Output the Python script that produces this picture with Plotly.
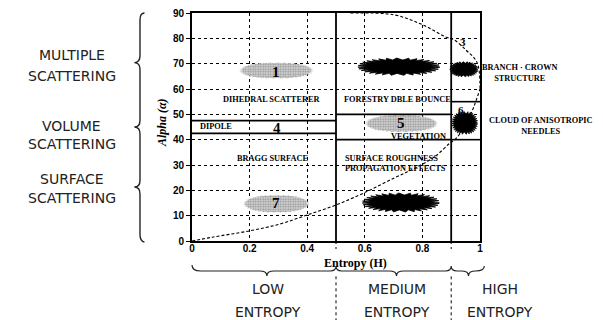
import numpy as np
import plotly.graph_objects as go

# ---------------- data ----------------
# feasible-region boundary curves of the H/alpha plane
upper_H = [0.55, 0.70, 0.80, 0.88, 0.91, 0.95, 0.99, 1.0]
upper_alpha = [90, 89.3, 85.4, 80.6, 79.4, 75.5, 70.4, 60]
lower_H = [0, 0.07, 0.2, 0.305, 0.4, 0.5, 0.605, 0.704, 0.773, 0.843, 0.895, 0.918, 0.96, 1.0]
lower_alpha = [0, 1.5, 4, 6.7, 10.3, 14.2, 19.4, 25.0, 28.7, 33.3, 38.6, 40.6, 48, 60]

# zone boundaries
H_bounds = [0.5, 0.9]
zone_H_start = [0.0, 0.5, 0.9]
zone_H_end = [0.5, 0.9, 1.0]
zone_alpha_low = [42.5, 40, 40]
zone_alpha_high = [47.5, 50, 55]

# scatter clusters (centre H, centre alpha, spread H, spread alpha)
gray_H = [0.293, 0.727, 0.293]
gray_alpha = [67.3, 46.4, 14.7]
gray_dH = [0.13, 0.128, 0.116]
gray_dA = [3.2, 3.4, 3.5]

black_H = [0.718, 0.944, 0.947, 0.725]
black_alpha = [68.8, 67.8, 46.6, 15.2]
black_dH = [0.142, 0.049, 0.045, 0.134]
black_dA = [3.4, 3.0, 4.5, 3.75]

zone_num = ["1", "4", "5", "7", "3", "6"]
zone_num_H = [0.293, 0.294, 0.727, 0.293, 0.94, 0.935]
zone_num_alpha = [66.9, 44.7, 46.5, 14.9, 78.7, 51.8]
zone_num_size = [15, 15, 15, 15, 11, 11]

region_text = ["DIHEDRAL SCATTERER", "DIPOLE", "BRAGG SURFACE", "FORESTRY DBLE BOUNCE",
               "VEGETATION", "SURFACE ROUGHNESS", "PROPAGATION EFFECTS"]
region_H = [0.277, 0.02, 0.28, 0.52, 0.888, 0.524, 0.524]
region_alpha = [55.7, 45.1, 32.7, 56.0, 41.2, 32.7, 28.7]
region_anchor = ["center", "left", "center", "left", "right", "left", "left"]

x_tickvals = [0, 0.2, 0.4, 0.6, 0.8, 1]
x_ticktext = ["0", "0.2", "0.4", "0.6", "0.8", "1"]

# left-hand mechanism labels (one entry per text line)
mech_lines = ["MULTIPLE", "SCATTERING", "VOLUME", "SCATTERING", "SURFACE", "SCATTERING"]
mech_line_y = [0.816, 0.724, 0.504, 0.425, 0.272, 0.189]
brace_tips_alpha = [70.4, 45.0, 21.3]

ent_top = ["LOW", "MEDIUM", "HIGH"]
ent_H = [0.263, 0.711, 1.069]
ent_tips_H = [0.26, 0.71, 0.96]

side_text = ["BRANCH \u00b7 CROWN<br>STRUCTURE", "CLOUD OF ANISOTROPIC<br>NEEDLES"]
side_H = [1.14, 1.21]
side_alpha = [66.5, 45.3]

# ---------------- figure ----------------
fig = go.Figure()


def blob(hc, ac, dh, da, n, inner):
    t = np.linspace(0, 2 * np.pi, n, endpoint=True)
    r = np.where(np.arange(n) % 2 == 0, 1.0, inner)
    c = np.cos(t)
    s = np.sin(t)
    x = hc + dh * r * np.sign(c) * np.abs(c) ** 0.8
    y = ac + da * r * s
    return x, y


for hc, ac, dh, da in zip(gray_H, gray_alpha, gray_dH, gray_dA):
    x, y = blob(hc, ac, dh, da, 90, 0.9)
    fig.add_trace(go.Scatter(
        x=x, y=y, mode="lines", fill="toself", line=dict(width=0, color="#999"),
        fillcolor="rgba(0,0,0,0)",
        fillpattern=dict(shape=".", fgcolor="#555", bgcolor="#dedede", size=2.5, solidity=0.5),
        hoverinfo="skip", showlegend=False))

for hc, ac, dh, da in zip(black_H, black_alpha, black_dH, black_dA):
    x, y = blob(hc, ac, dh, da, 64, 0.78)
    fig.add_trace(go.Scatter(
        x=x, y=y, mode="lines", fill="toself", line=dict(width=0.8, color="black"),
        fillcolor="black", hoverinfo="skip", showlegend=False))

# zone boundary lines
for hb in H_bounds:
    fig.add_trace(go.Scatter(x=[hb, hb], y=[0, 90], mode="lines",
                             line=dict(color="black", width=1.8),
                             hoverinfo="skip", showlegend=False))
for h0, h1, a0, a1 in zip(zone_H_start, zone_H_end, zone_alpha_low, zone_alpha_high):
    for a in (a0, a1):
        fig.add_trace(go.Scatter(x=[h0, h1], y=[a, a], mode="lines",
                                 line=dict(color="black", width=1.6),
                                 hoverinfo="skip", showlegend=False))

# boundary curves
for hx, ay in ((upper_H, upper_alpha), (lower_H, lower_alpha)):
    fig.add_trace(go.Scatter(x=hx, y=ay, mode="lines",
                             line=dict(color="black", width=1.1, dash="3px,2px", shape="spline"),
                             hoverinfo="skip", showlegend=False))

ann = []
serif = "Liberation Serif"
hand = "DejaVu Sans"

for t, h, a, s in zip(zone_num, zone_num_H, zone_num_alpha, zone_num_size):
    ann.append(dict(x=h, y=a, xref="x", yref="y", text="<b>%s</b>" % t, showarrow=False,
                    xanchor="center", yanchor="middle",
                    font=dict(family=serif, size=s, color="black")))

for t, h, a, anc in zip(region_text, region_H, region_alpha, region_anchor):
    ann.append(dict(x=h, y=a, xref="x", yref="y", text="<b>%s</b>" % t, showarrow=False,
                    xanchor=anc, yanchor="middle",
                    font=dict(family=serif, size=8.3, color="black")))

for t, h, a in zip(side_text, side_H, side_alpha):
    ann.append(dict(x=h, y=a / 90, xref="paper", yref="paper", text="<b>%s</b>" % t,
                    showarrow=False, xanchor="center", yanchor="middle",
                    font=dict(family=serif, size=8.3, color="black")))

for t, yy in zip(mech_lines, mech_line_y):
    ann.append(dict(x=-0.417, y=yy, xref="paper", yref="paper", text=t, showarrow=False,
                    xanchor="center", yanchor="middle",
                    font=dict(family=hand, size=14, color="#222")))

for t, h in zip(ent_top, ent_H):
    ann.append(dict(x=h, y=-0.2105, xref="paper", yref="paper", text=t, showarrow=False,
                    xanchor="center", yanchor="middle",
                    font=dict(family=hand, size=14, color="#222")))
    ann.append(dict(x=h, y=-0.311, xref="paper", yref="paper", text="ENTROPY", showarrow=False,
                    xanchor="center", yanchor="middle",
                    font=dict(family=hand, size=14, color="#222")))

ann.append(dict(x=0.568, y=-0.0965, xref="paper", yref="paper", text="<b>Entropy (H)</b>",
                showarrow=False, xanchor="center", yanchor="middle",
                font=dict(family=serif, size=12, color="black")))
ann.append(dict(x=-0.102, y=0.52, xref="paper", yref="paper", text="<b><i>Alpha (\u03b1)</i></b>",
                showarrow=False, textangle=-90, xanchor="center", yanchor="middle",
                font=dict(family=serif, size=12, color="black")))

shapes = []
# left brace (paper coords)
bx = -0.1806
tipx = -0.2
hook = -0.165
pts = [1.0] + [a / 90 for a in brace_tips_alpha] + [0.0]
d = "M %f,%f Q %f,%f %f,%f" % (hook, 1.0, bx, 1.0, bx, 0.97)
for tp in pts[1:-1]:
    d += " L %f,%f Q %f,%f %f,%f Q %f,%f %f,%f" % (bx, tp + 0.03, bx, tp, tipx, tp, bx, tp, bx, tp - 0.03)
d += " L %f,%f Q %f,%f %f,%f" % (bx, 0.03, bx, 0.0, hook, -0.005)
shapes.append(dict(type="path", path=d, xref="paper", yref="paper",
                   line=dict(color="#222", width=1.4)))

# bottom brace (paper coords, H maps directly to paper x)
by = -0.1316
tipy = -0.153
d = "M %f,%f Q %f,%f %f,%f" % (0.0, -0.105, 0.0, by, 0.03, by)
for i, tp in enumerate(ent_tips_H):
    d += " L %f,%f Q %f,%f %f,%f Q %f,%f %f,%f" % (tp - 0.025, by, tp, by, tp, tipy, tp, by, tp + 0.025, by)
    if i < len(H_bounds):
        hb = H_bounds[i]
        d += " L %f,%f Q %f,%f %f,%f Q %f,%f %f,%f" % (hb - 0.02, by, hb, by, hb, -0.11, hb, by, hb + 0.02, by)
d += " Q %f,%f %f,%f" % (1.015, by, 1.015, -0.11)
shapes.append(dict(type="path", path=d, xref="paper", yref="paper",
                   line=dict(color="#222", width=1.2)))

for hb in H_bounds:
    shapes.append(dict(type="line", x0=hb, x1=hb, y0=0, y1=-0.035, xref="paper", yref="paper",
                       line=dict(color="black", width=1, dash="dot")))
    shapes.append(dict(type="line", x0=hb, x1=hb, y0=-0.155, y1=-0.35, xref="paper", yref="paper",
                       line=dict(color="black", width=1, dash="dot")))

tickfont = dict(family="Liberation Sans", size=10, color="black", weight="bold")
fig.update_layout(
    width=595, height=312,
    margin=dict(l=184, r=123, t=5, b=79, autoexpand=False),
    paper_bgcolor="white", plot_bgcolor="white",
    annotations=ann, shapes=shapes,
    xaxis=dict(range=[0, 1], tickvals=x_tickvals, ticktext=x_ticktext, automargin=False,
               showgrid=True, gridcolor="black", griddash="dot", gridwidth=1,
               zeroline=False, showline=True, mirror=True, linecolor="black", linewidth=2,
               ticks="", tickfont=tickfont, ticklabeloverflow="allow",
               ticklabelstandoff=-3),
    yaxis=dict(range=[0, 90], dtick=10, tick0=0, automargin=False,
               showgrid=True, gridcolor="black", griddash="dot", gridwidth=1,
               zeroline=False, showline=True, mirror=True, linecolor="black", linewidth=2,
               ticks="outside", ticklen=4, tickcolor="black", tickfont=tickfont,
               ticklabeloverflow="allow"),
)

fig.write_html("out.html")
